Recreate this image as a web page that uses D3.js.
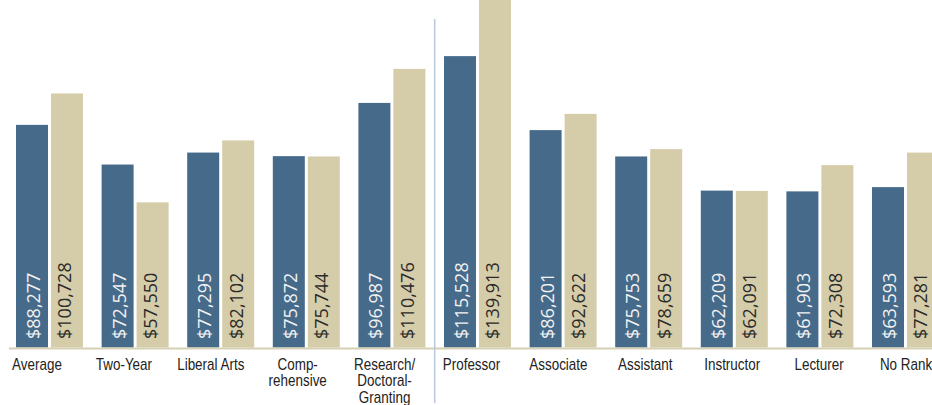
<!DOCTYPE html>
<html><head><meta charset="utf-8">
<script src="https://cdn.jsdelivr.net/npm/d3@7"></script>
<style>
html,body{margin:0;padding:0;background:#fff;overflow:hidden}
svg{display:block}
</style></head>
<body>
<svg id="chart" width="932" height="405"></svg>
<script>
const categories = ["Average","Two-Year","Liberal Arts","Comp-\nrehensive","Research/\nDoctoral-\nGranting","Professor","Associate","Assistant","Instructor","Lecturer","No Rank"];
const seriesNames = ["Men","Women"];
const seriesA = [88277,72547,77295,75872,96987,115528,86201,75753,62209,61903,63593];
const seriesB = [100728,57550,82102,75744,110476,139913,92622,78659,62091,72308,77281];
const valueLabelsA = ["$88,277","$72,547","$77,295","$75,872","$96,987","$115,528","$86,201","$75,753","$62,209","$61,903","$63,593"];
const valueLabelsB = ["$100,728","$57,550","$82,102","$75,744","$110,476","$139,913","$92,622","$78,659","$62,091","$72,308","$77,281"];

const colors = ["#466a8a","#d5cca9"];
const svg = d3.select("#chart");
const W = 932, H = 405, baseY = 347.5;

const x = d3.scalePoint().domain(d3.range(categories.length)).range([49.5, 905.5]);
const xs = d3.scaleBand().domain(seriesNames).range([-33.5, 33.5]).paddingInner(0.0857);
const xl = d3.scalePoint().domain(d3.range(categories.length)).range([37, 906]);
const y = d3.scaleLinear().domain([0, 140000]).range([baseY, baseY - 0.002522*140000]);

const data = categories.map((c,i)=>({i, vals:[seriesA[i], seriesB[i]], labs:[valueLabelsA[i], valueLabelsB[i]]}));

const g = svg.selectAll("g.grp").data(data).join("g").attr("class","grp")
  .attr("transform", d=>`translate(${x(d.i)},0)`);

g.selectAll("rect").data(d=>d.vals.map((v,k)=>({v,k}))).join("rect")
  .attr("x", d=>xs(seriesNames[d.k]))
  .attr("width", xs.bandwidth())
  .attr("y", d=>y(d.v))
  .attr("height", d=>baseY - y(d.v))
  .attr("fill", d=>colors[d.k]);

g.selectAll("text.val").data(d=>d.labs.map((t,k)=>({t,k}))).join("text")
  .attr("class","val")
  .attr("transform", d=>`translate(${xs(seriesNames[d.k]) + xs.bandwidth()/2 + (d.k===0?8:4.5)},${339}) rotate(-90)`)
  .attr("text-anchor","start")
  .attr("font-family","'Open Sans', sans-serif")
  .attr("font-size","18px")
  .attr("fill", d=>d.k===0 ? "#f2f2f2" : "#2a2a2a")
  .text(d=>d.t);

// baseline
svg.append("line").attr("x1",9).attr("x2",W).attr("y1",baseY+1).attr("y2",baseY+1)
  .attr("stroke","#d6d0b4").attr("stroke-width",2);

// separator
const sepX = (x(4) + x(5))/2;
svg.append("line").attr("x1",sepX).attr("x2",sepX).attr("y1",19).attr("y2",403)
  .attr("stroke","#b9c9dc").attr("stroke-width",1.5);

// category labels
const lab = svg.selectAll("text.cat").data(categories).join("text")
  .attr("class","cat")
  .attr("text-anchor","middle")
  .attr("transform",(c,i)=>`translate(${xl(i)},0) scale(0.84,1)`)
  .attr("font-family","'Liberation Sans', Arial, sans-serif")
  .attr("font-size","16px")
  .attr("fill","#222");
lab.each(function(c,i){
  const lines = c.split("\n");
  d3.select(this).selectAll("tspan").data(lines).join("tspan")
    .attr("x", 0).attr("y",(l,j)=>370 + j*16.3).text(l=>l);
});
</script>
</body></html>
